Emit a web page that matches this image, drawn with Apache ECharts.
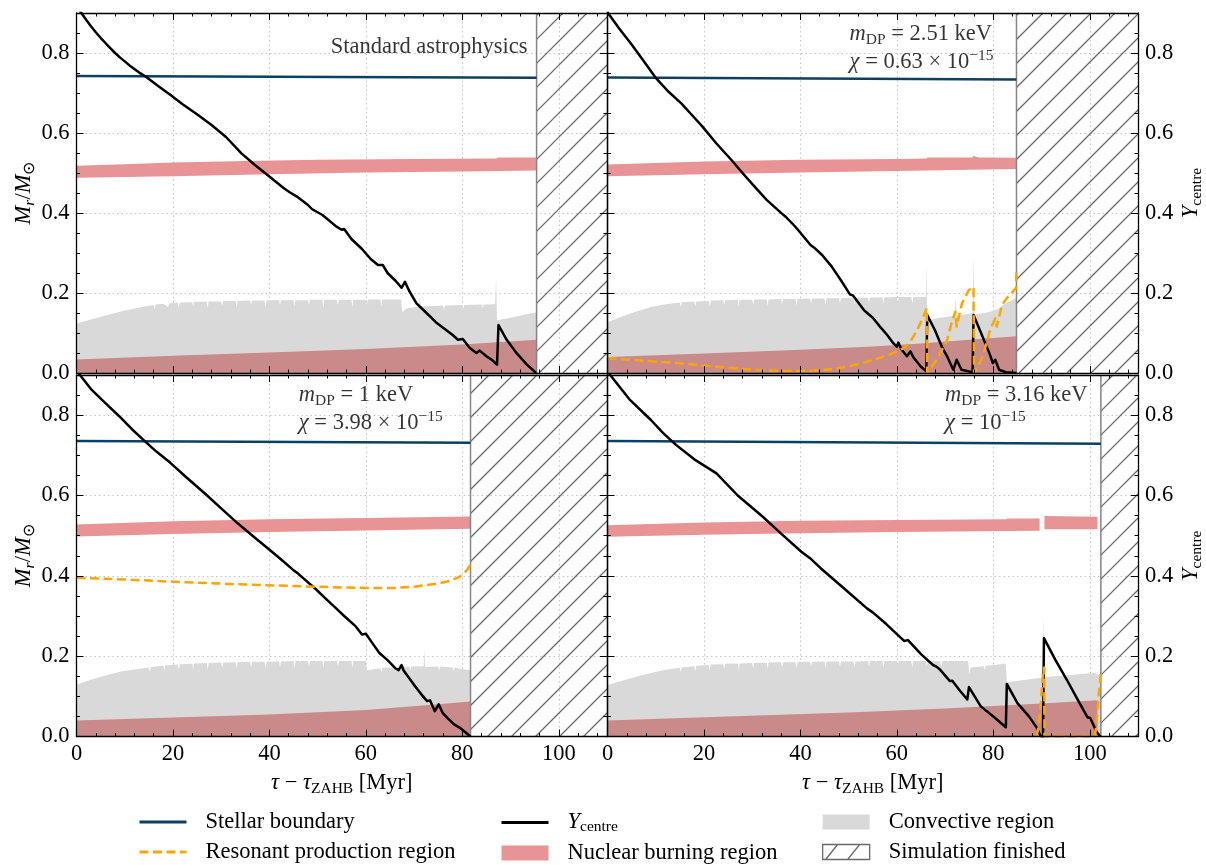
<!DOCTYPE html>
<html>
<head>
<meta charset="utf-8">
<script src="https://cdn.jsdelivr.net/npm/echarts@6/dist/echarts.min.js"></script>
<style>html,body{margin:0;padding:0;background:#fff}#chart{width:1206px;height:865px}</style>
</head>
<body>
<div id="chart"></div>
<script>
// ================= DATA =================
const xTicks = [0, 20, 40, 60, 80, 100];
const yTicks = [0, 0.2, 0.4, 0.6, 0.8];
const xMax = 110, yMax = 0.9;
const simEnd = [95.4, 84.8, 81.7, 102.3];

const panelText = [
  '{n|Standard astrophysics}',
  '{i|m}{sub|DP}{n| = 2.51 keV}\n{i|χ}{n| = 0.63 × 10}{sup|−15}',
  '{i|m}{sub|DP}{n| = 1 keV}\n{i|χ}{n| = 3.98 × 10}{sup|−15}',
  '{i|m}{sub|DP}{n| = 3.16 keV}\n{i|χ}{n| = 10}{sup|−15}'
];

// Stellar boundary
const boundaryStd = [[0, 0.7425], [95.4, 0.738]];
const boundary251 = [[0, 0.739], [84.8, 0.734]];
const boundary1 = [[0, 0.7357], [81.7, 0.7316]];
const boundary316 = [[0, 0.7355], [102.3, 0.729]];

// Y_centre
const ycStd = [[0,0.918],[1,0.9],[2,0.883],[3,0.867],[4,0.852],[5,0.838],[6,0.825],[7,0.812],[8,0.8],[9,0.789],[10,0.779],[11,0.769],[12,0.76],[13,0.751],[14.6,0.739],[17,0.717],[19.5,0.695],[22,0.672],[25.2,0.645],[28,0.62],[31,0.59],[34.2,0.549],[37,0.52],[40,0.491],[43,0.462],[44.2,0.452],[44.6,0.455],[45.7,0.441],[48,0.42],[48.8,0.41],[49.2,0.413],[51,0.395],[53.9,0.366],[55,0.358],[55.5,0.36],[57,0.335],[59.2,0.31],[61,0.285],[62.5,0.27],[63.5,0.27],[64.5,0.25],[66.2,0.23],[67.4,0.213],[67.8,0.212],[68.1,0.228],[69,0.205],[70.5,0.174],[73,0.145],[74.5,0.127],[76.7,0.107],[78,0.095],[79.1,0.083],[80.1,0.085],[81.5,0.063],[82.9,0.05],[83.6,0.056],[85,0.042],[85.4,0.046],[86.1,0.033],[87.2,0.021],[87.5,0.12],[89.2,0.083],[91.3,0.049],[93.4,0.021],[95.3,0]];
const yc251 = [[0,0.915],[0.1,0.9],[2.5,0.86],[4.85,0.824],[7.5,0.78],[10.06,0.737],[12.5,0.705],[15.3,0.674],[17.5,0.645],[19.7,0.616],[22.5,0.575],[25.7,0.5325],[28,0.5],[30.5,0.466],[33,0.433],[36.1,0.399],[37,0.39],[37.3,0.393],[39,0.365],[42.1,0.32],[42.8,0.314],[43.2,0.316],[44.5,0.295],[46.5,0.266],[48.5,0.23],[50.3,0.196],[50.9,0.194],[52,0.176],[53.2,0.157],[53.6,0.162],[55,0.138],[56.5,0.116],[58,0.095],[59.3,0.074],[60,0.066],[60.3,0.076],[61,0.058],[62.1,0.042],[62.8,0.054],[63.5,0.038],[64.9,0.017],[66.1,0.004],[66.3,0.145],[67.9,0.107],[69.3,0.066],[70.4,0.042],[71.7,0.008],[72.4,0.033],[73.4,0.008],[75.7,0.002],[75.9,0.145],[77.5,0.099],[79.2,0.049],[79.9,0.025],[80.4,0.033],[81.2,0.008],[82.6,0.002],[84.8,0]];
const yc1 = [[0,0.91],[0.6,0.902],[3,0.865],[6,0.83],[8.8,0.798],[11.5,0.765],[14.1,0.736],[16.5,0.71],[19.4,0.682],[23,0.643],[26.8,0.603],[30,0.568],[33.3,0.532],[36.5,0.5],[39.9,0.466],[42.5,0.44],[44.8,0.416],[45.2,0.418],[46,0.405],[49.7,0.366],[51.5,0.345],[53.4,0.324],[53.8,0.326],[55.5,0.3],[57.9,0.274],[59.2,0.254],[60,0.256],[60.4,0.254],[61.5,0.23],[62.8,0.208],[64.5,0.19],[66.1,0.17],[66.8,0.165],[67.4,0.178],[67.8,0.165],[69,0.145],[70.2,0.125],[71.5,0.105],[72.7,0.088],[73.3,0.09],[74.3,0.063],[75.1,0.08],[75.9,0.059],[77,0.045],[78.3,0.03],[79.5,0.0216],[80.2,0.015],[80.6,0.018],[81.7,0]];
const yc316 = [[0,0.91],[0.56,0.9],[4.5,0.84],[9,0.788],[11.5,0.756],[14.2,0.726],[18,0.69],[22.6,0.655],[27,0.6],[32.2,0.547],[36,0.505],[40.2,0.46],[42,0.444],[42.4,0.447],[44.2,0.419],[49,0.369],[53.8,0.319],[55,0.309],[55.4,0.311],[57.8,0.28],[60,0.255],[61.5,0.238],[62.3,0.24],[65,0.205],[67.5,0.178],[68.2,0.174],[69,0.166],[71,0.138],[71.5,0.139],[73,0.115],[74.6,0.092],[74.95,0.123],[77.4,0.075],[80.2,0.048],[80.6,0.05],[82.6,0.023],[82.8,0.131],[85,0.083],[87.4,0.05],[89,0.022],[89.8,0.001],[90.3,0],[90.5,0.245],[92.9,0.19],[95.3,0.14],[97.8,0.085],[99.5,0.048],[100.1,0.046],[100.4,0.05],[101.4,0.012],[102.2,0]];

// Resonant production region
const res251 = [[0,0.037],[7,0.031],[14.5,0.025],[22,0.016],[30.5,0.0075],[37,0.005],[42.5,0.006],[47,0.01],[50.5,0.018],[53.5,0.027],[56.5,0.038],[58.5,0.046],[60,0.054],[61.5,0.063],[62.8,0.078],[64.2,0.107],[65.5,0.141],[66.2,0.162],[66.3,0],[67.5,0.02],[68.6,0.041],[70.4,0.082],[71.4,0.128],[72.1,0.153],[72.4,0.116],[73.5,0.174],[74.9,0.207],[75.9,0.215],[76,0],[77,0.02],[78,0.049],[79.3,0.107],[80.4,0.136],[80.7,0.116],[81.8,0.17],[82.8,0.187],[84.7,0.212],[84.8,0.253]];
const res1 = [[0,0.395],[10,0.391],[17,0.387],[25,0.383],[33.3,0.379],[41,0.376],[49.7,0.373],[55,0.371],[60,0.37],[66.1,0.37],[70,0.373],[72.7,0.377],[75,0.381],[77.6,0.388],[79.5,0.398],[80.5,0.408],[81.2,0.418],[81.7,0.43]];
const res316 = [[89,0],[89.5,0.035],[89.9,0.09],[90.3,0.16],[90.55,0.172],[90.6,0],[101.1,0],[101.6,0.06],[101.9,0.11],[102.3,0.16]];

// Convective region (upper edge, filled down to 0)
const convStd = [[0,0.124],[3,0.134],[6,0.144],[9,0.153],[12,0.161],[14,0.166],[16,0.17],[16.2,0.158],[16.4,0.171],[18,0.173],[19,0.165],[19.2,0.174],[21,0.176],[21.2,0.163],[21.4,0.176],[24,0.177],[24.2,0.166],[24.4,0.178],[27,0.178],[27.2,0.162],[27.4,0.179],[30,0.179],[30.2,0.168],[30.4,0.18],[33,0.18],[33.2,0.165],[33.4,0.18],[36,0.181],[36.2,0.17],[36.4,0.181],[39,0.181],[39.2,0.164],[39.4,0.182],[42,0.182],[42.2,0.17],[42.4,0.182],[45,0.182],[45.2,0.166],[45.4,0.182],[48,0.182],[48.2,0.17],[48.4,0.183],[51,0.183],[51.2,0.163],[51.4,0.183],[54,0.183],[54.2,0.17],[54.4,0.183],[57,0.183],[57.2,0.165],[57.4,0.183],[60,0.183],[60.2,0.17],[60.4,0.184],[63,0.184],[63.2,0.166],[63.4,0.184],[67.3,0.184],[67.5,0.152],[68.5,0.162],[71,0.166],[71.2,0.19],[71.4,0.166],[75,0.168],[76,0.169],[76.2,0.158],[76.4,0.169],[80,0.17],[80.2,0.16],[80.4,0.17],[84,0.171],[84.2,0.162],[84.4,0.171],[86.8,0.172],[87,0.24],[87.2,0.132],[90,0.138],[93,0.146],[95.4,0.152]];
const conv251 = [[0,0.127],[3,0.141],[6,0.154],[9,0.165],[12,0.172],[15,0.176],[15.2,0.164],[15.4,0.177],[18,0.179],[18.2,0.167],[18.4,0.179],[21,0.18],[21.2,0.166],[21.4,0.181],[24,0.182],[24.2,0.17],[24.4,0.182],[27,0.183],[27.2,0.167],[27.4,0.183],[30,0.183],[30.2,0.171],[30.4,0.184],[33,0.184],[33.2,0.168],[33.4,0.184],[36,0.185],[36.2,0.172],[36.4,0.185],[39,0.185],[39.2,0.169],[39.4,0.185],[42,0.186],[42.2,0.173],[42.4,0.186],[45,0.186],[45.2,0.17],[45.4,0.187],[48,0.187],[48.2,0.174],[48.4,0.187],[51,0.188],[51.2,0.171],[51.4,0.188],[54,0.188],[54.2,0.175],[54.4,0.189],[57,0.189],[57.2,0.172],[57.4,0.189],[60,0.19],[60.2,0.176],[60.4,0.19],[63,0.19],[63.2,0.174],[63.4,0.19],[66,0.19],[66.1,0.27],[66.3,0.132],[69,0.138],[72,0.143],[72.2,0.19],[72.4,0.144],[75.7,0.149],[75.9,0.29],[76.1,0.146],[79,0.152],[81,0.16],[82,0.17],[84.8,0.188]];
const conv1 = [[0,0.129],[3,0.141],[6,0.152],[9,0.161],[12,0.167],[15,0.172],[15.2,0.16],[15.4,0.173],[18,0.176],[18.2,0.163],[18.4,0.177],[21,0.179],[21.2,0.166],[21.4,0.18],[24,0.181],[24.2,0.168],[24.4,0.182],[27,0.183],[27.2,0.167],[27.4,0.183],[30,0.184],[30.2,0.171],[30.4,0.184],[33,0.185],[33.2,0.168],[33.4,0.185],[36,0.186],[36.2,0.172],[36.4,0.186],[39,0.186],[39.2,0.169],[39.4,0.187],[42,0.187],[42.2,0.173],[42.4,0.187],[45,0.188],[45.2,0.17],[45.4,0.188],[48,0.188],[48.2,0.174],[48.4,0.188],[51,0.188],[51.2,0.171],[51.4,0.188],[54,0.188],[54.2,0.175],[54.4,0.188],[57,0.188],[57.2,0.172],[57.4,0.188],[60,0.188],[60.2,0.165],[63,0.17],[63.2,0.16],[63.4,0.171],[66,0.172],[66.2,0.162],[66.4,0.173],[69,0.174],[69.2,0.165],[69.4,0.174],[72,0.175],[72.1,0.215],[72.3,0.173],[75,0.174],[75.2,0.164],[75.4,0.174],[78,0.172],[78.2,0.163],[78.4,0.171],[81.7,0.165]];
const conv316 = [[0,0.128],[3,0.139],[6,0.149],[9,0.158],[12,0.166],[15,0.171],[15.2,0.16],[15.4,0.172],[18,0.175],[18.2,0.163],[18.4,0.176],[21,0.178],[21.2,0.165],[21.4,0.179],[24,0.18],[24.2,0.168],[24.4,0.181],[27,0.182],[27.2,0.167],[27.4,0.182],[30,0.183],[30.2,0.17],[30.4,0.183],[33,0.184],[33.2,0.168],[33.4,0.184],[36,0.185],[36.2,0.172],[36.4,0.185],[39,0.185],[39.2,0.169],[39.4,0.186],[42,0.186],[42.2,0.173],[42.4,0.186],[45,0.187],[45.2,0.17],[45.4,0.187],[48,0.187],[48.2,0.174],[48.4,0.187],[51,0.187],[51.2,0.171],[51.4,0.187],[54,0.188],[54.2,0.175],[54.4,0.188],[57,0.188],[57.2,0.172],[57.4,0.188],[60,0.188],[60.2,0.176],[60.4,0.188],[63,0.188],[63.2,0.172],[63.4,0.188],[66,0.188],[66.2,0.175],[66.4,0.188],[69,0.188],[69.2,0.172],[69.4,0.188],[74.8,0.188],[75,0.155],[75.3,0.172],[78,0.175],[78.2,0.165],[78.4,0.176],[80.3,0.178],[82.6,0.182],[82.8,0.135],[86,0.14],[89,0.145],[90.3,0.146],[90.4,0.3],[90.6,0.148],[93,0.15],[96,0.153],[99,0.156],[101,0.158],[102.3,0.15]];

// Nuclear burning region: core part (0 -> top) and shell band (lower -> upper)
const coreStd = [[0,0.034],[20,0.043],[40,0.051],[60,0.06],[80,0.071],[95.4,0.083]];
const core251 = [[0,0.04],[20,0.049],[40,0.058],[55,0.066],[65,0.074],[75,0.083],[84.8,0.092]];
const core1 = [[0,0.04],[20,0.047],[40,0.055],[60,0.066],[75,0.08],[81.7,0.087]];
const core316 = [[0,0.04],[25,0.05],[50,0.06],[70,0.07],[90,0.082],[101.6,0.09]];

const shellUpStd = [[0,0.518],[10,0.522],[20,0.526],[35,0.53],[50,0.533],[70,0.535],[87,0.536],[87.5,0.539],[95.4,0.539]];
const shellLoStd = [[0,0.488],[20,0.492],[40,0.497],[60,0.501],[80,0.504],[95.4,0.506]];
const shellUp251 = [[0,0.521],[20,0.529],[40,0.533],[60,0.535],[66.2,0.536],[66.3,0.539],[75.7,0.539],[75.8,0.543],[77,0.539],[84.8,0.538]];
const shellLo251 = [[0,0.492],[20,0.497],[40,0.501],[60,0.505],[84.8,0.51]];
const shellUp1 = [[0,0.528],[20,0.536],[40,0.541],[60,0.544],[81.7,0.548]];
const shellLo1 = [[0,0.498],[20,0.504],[40,0.509],[60,0.513],[81.7,0.517]];
const shellUp316a = [[0,0.526],[20,0.533],[40,0.537],[60,0.539],[82.7,0.541],[82.8,0.543],[89.6,0.543]];
const shellLo316a = [[0,0.497],[20,0.502],[40,0.506],[60,0.509],[89.6,0.512]];
const shellUp316b = [[90.6,0.549],[101.6,0.547]];
const shellLo316b = [[90.6,0.516],[101.6,0.516]];

// ================= STYLE / LAYOUT =================
const FONT = 'Liberation Serif';
const FS = 22.5, FSS = 15.5;
const C_BOUND = '#0b4063', C_YC = '#000000', C_RES = '#ffa500';
const C_CONV = '#d9d9d9', C_SHELL = '#e89494', C_CORE = '#c98a8a', C_HATCH = '#6a6a6a';

function richSet(lh, subTop, subBot, supTop, supBot) {
  const base = {fontFamily: FONT, color: '#000'};
  return {
    n: Object.assign({fontSize: FS, lineHeight: lh}, base),
    i: Object.assign({fontSize: FS, lineHeight: lh, fontStyle: 'italic'}, base),
    sub: Object.assign({fontSize: FSS, lineHeight: 15, padding: [subTop, 0, subBot, 0]}, base),
    isub: Object.assign({fontSize: FSS, lineHeight: 15, fontStyle: 'italic', padding: [subTop, 0, subBot, 0]}, base),
    sup: Object.assign({fontSize: FSS, lineHeight: 15, padding: [supTop, 0, supBot, 0]}, base)
  };
}
const R26 = richSet(26, 11, 0, 0, 11);
const R28 = richSet(28, 12, 1, 0.5, 12.5);
const R24 = richSet(24, 9, 0, 0, 9);

const grids = [
  {left: 76.5, top: 13, width: 530.5, height: 360},
  {left: 607.5, top: 13, width: 530.5, height: 360},
  {left: 76.5, top: 375, width: 530.5, height: 361.5},
  {left: 607.5, top: 375, width: 530.5, height: 361.5}
].map(g => Object.assign({containLabel: false, outerBoundsMode: 'none'}, g));

const labelStyle = {fontFamily: FONT, fontSize: FS, color: '#000'};
const lineAx = {show: true, onZero: false, lineStyle: {color: '#000', width: 1.3}};
const noLine = {show: false, onZero: false};
const majTick = {show: true, inside: true, length: 7, lineStyle: {color: '#000', width: 1}};
const minTick = {show: true, inside: true, length: 3.5, lineStyle: {color: '#000', width: 1}};
const gridLine = {show: true, lineStyle: {color: '#c4c4c4', width: 1, type: [1.5, 3]}};

const xName = '{i|τ}{n| − }{i|τ}{sub|ZAHB}{n| [Myr]}';
const yNameL = '{i|M}{isub|r}{n|/}{i|M}{sub|⊙}';
const yNameR = '{i|Y}{sub|centre}';

const xAxes = [], yAxes = [];
grids.forEach((g, i) => {
  const row = Math.floor(i / 2), col = i % 2;
  const cx = {gridIndex: i, type: 'value', min: 0, max: xMax, silent: true,
    axisLine: noLine, axisTick: {show: false}, axisLabel: {show: false}, splitLine: {show: false}, minorTick: {show: false}};
  const cy = Object.assign({}, cx, {max: yMax});
  xAxes.push(Object.assign({}, cx, {position: 'bottom', interval: 20, splitLine: gridLine, z: 0}));
  xAxes.push(Object.assign({}, cx, {position: 'bottom', interval: 20, z: 10, axisLine: lineAx, axisTick: majTick,
    axisLabel: {show: row === 1, margin: 6, showMaxLabel: false, ...labelStyle, formatter: v => (v > 105 ? '' : String(v))},
    name: row === 1 ? xName : '', nameLocation: 'middle', nameGap: 34, nameMoveOverlap: false,
    nameTextStyle: {...labelStyle, rich: R26}}));
  xAxes.push(Object.assign({}, cx, {position: 'bottom', interval: 4, z: 10, axisTick: minTick}));
  xAxes.push(Object.assign({}, cx, {position: 'top', interval: 20, z: 10, axisLine: lineAx, axisTick: majTick}));
  xAxes.push(Object.assign({}, cx, {position: 'top', interval: 4, z: 10, axisTick: minTick}));
  const yLab = {margin: 7, showMaxLabel: false, ...labelStyle, formatter: v => (v > 0.85 ? '' : v.toFixed(1))};
  yAxes.push(Object.assign({}, cy, {position: 'left', interval: 0.2, splitLine: gridLine, z: 0}));
  yAxes.push(Object.assign({}, cy, {position: 'left', interval: 0.2, z: 10, axisLine: lineAx, axisTick: majTick,
    axisLabel: Object.assign({show: col === 0}, yLab),
    name: col === 0 ? yNameL : '', nameLocation: 'middle', nameGap: 39, nameMoveOverlap: false,
    nameTextStyle: {...labelStyle, rich: R26}}));
  yAxes.push(Object.assign({}, cy, {position: 'left', interval: 0.05, z: 10, axisTick: minTick}));
  yAxes.push(Object.assign({}, cy, {position: 'right', interval: 0.2, z: 10, axisLine: lineAx, axisTick: majTick,
    axisLabel: Object.assign({show: col === 1}, yLab),
    name: col === 1 ? yNameR : '', nameLocation: 'middle', nameGap: 40, nameMoveOverlap: false,
    nameTextStyle: {...labelStyle, rich: R26}}));
  yAxes.push(Object.assign({}, cy, {position: 'right', interval: 0.05, z: 10, axisTick: minTick}));
});

function polySeries(name, i, top, bottom, color, z) {
  return {
    type: 'custom', name: name, xAxisIndex: 5 * i, yAxisIndex: 5 * i, z: z, silent: true,
    data: [[top[0][0], top[0][1]]],
    renderItem: function (params, api) {
      const up = top.map(p => api.coord(p));
      const lo = bottom ? bottom.map(p => api.coord(p)).reverse()
        : [api.coord([top[top.length - 1][0], 0]), api.coord([top[0][0], 0])];
      return {type: 'polygon', shape: {points: up.concat(lo)}, style: {fill: color, stroke: null}};
    }
  };
}
function lineSeries(name, i, data, color, width, type, z) {
  return {type: 'line', name: name, xAxisIndex: 5 * i, yAxisIndex: 5 * i, data: data, z: z,
    symbol: 'none', showSymbol: false, silent: true, clip: true, animation: false,
    lineStyle: {color: color, width: width, type: type, join: 'round'}, itemStyle: {color: color}};
}
function hatchSeries(i, end) {
  return {
    type: 'custom', name: 'Simulation finished', xAxisIndex: 5 * i, yAxisIndex: 5 * i, z: 3, silent: true,
    data: [[end, 0]],
    renderItem: function (params, api) {
      const a = api.coord([end, yMax]), b = api.coord([xMax, 0]);
      const L = a[0], T = a[1], R = b[0], B = b[1];
      const step = 24, kids = [];
      for (let c = Math.ceil((L + T) / step) * step; c < R + B; c += step) {
        const x1 = Math.max(L, c - B), x2 = Math.min(R, c - T);
        if (x2 - x1 > 0.5) kids.push({type: 'line', shape: {x1: x1, y1: c - x1, x2: x2, y2: c - x2},
          style: {stroke: C_HATCH, lineWidth: 1.3}});
      }
      kids.push({type: 'line', shape: {x1: L, y1: T, x2: L, y2: B}, style: {stroke: '#858585', lineWidth: 1.5}});
      return {type: 'group', children: kids};
    }
  };
}
function textSeries(i, pos, text) {
  return {type: 'scatter', xAxisIndex: 5 * i, yAxisIndex: 5 * i, z: 6, silent: true, symbolSize: 1,
    itemStyle: {color: 'rgba(0,0,0,0)'}, data: [pos],
    label: {show: true, position: 'right', distance: 0, formatter: text, rich: R28,
      fontFamily: FONT, fontSize: FS, color: '#000'}};
}

const panels = [
  {conv: convStd, core: coreStd, shells: [[shellUpStd, shellLoStd]], bound: boundaryStd, yc: ycStd, res: null, textPos: [52.6, 0.816]},
  {conv: conv251, core: core251, shells: [[shellUp251, shellLo251]], bound: boundary251, yc: yc251, res: res251, textPos: [50.1, 0.8125]},
  {conv: conv1, core: core1, shells: [[shellUp1, shellLo1]], bound: boundary1, yc: yc1, res: res1, textPos: [46.0, 0.815]},
  {conv: conv316, core: core316, shells: [[shellUp316a, shellLo316a], [shellUp316b, shellLo316b]], bound: boundary316, yc: yc316, res: res316, textPos: [69.9, 0.815]}
];

const series = [];
panels.forEach((p, i) => {
  series.push(polySeries('Convective region', i, p.conv, null, C_CONV, 1));
  series.push(polySeries('Nuclear burning region', i, p.core, null, C_CORE, 1));
  p.shells.forEach(s => series.push(polySeries('Nuclear burning region', i, s[0], s[1], C_SHELL, 1)));
  series.push(lineSeries('Stellar boundary', i, p.bound, C_BOUND, 2.5, 'solid', 3));
  series.push(lineSeries('Y_centre', i, p.yc, C_YC, 2.5, 'solid', 4));
  if (p.res) series.push(lineSeries('Resonant production region', i, p.res, C_RES, 2.5, [9, 4.5], 5));
  series.push(hatchSeries(i, simEnd[i]));
  series.push(textSeries(i, p.textPos, panelText[i]));
});

const legendBase = {orient: 'vertical', top: 810, padding: 0, itemWidth: 47, itemHeight: 15, itemGap: 6, selectedMode: false,
  textStyle: {fontFamily: FONT, fontSize: FS, color: '#000', lineHeight: 24, padding: [0, 0, 0, 14], rich: R24},
  formatter: n => (n === 'Y_centre' ? '{i|Y}{sub|centre}' : n)};
const hideSym = {opacity: 0};

const option = {
  animation: false,
  backgroundColor: '#ffffff',
  grid: grids,
  xAxis: xAxes,
  yAxis: yAxes,
  legend: [
    Object.assign({}, legendBase, {left: 138, data: [
      {name: 'Stellar boundary', itemStyle: hideSym, lineStyle: {width: 3}},
      {name: 'Resonant production region', itemStyle: hideSym, lineStyle: {width: 3}}]}),
    Object.assign({}, legendBase, {left: 500, data: [
      {name: 'Y_centre', itemStyle: hideSym, lineStyle: {width: 3}},
      {name: 'Nuclear burning region', icon: 'rect', itemStyle: {color: C_SHELL}}]}),
    Object.assign({}, legendBase, {left: 822, data: [
      {name: 'Convective region', icon: 'rect', itemStyle: {color: C_CONV}},
      {name: 'Simulation finished', icon: 'path://M0,0L47,0L47,15L0,15Z M3,15L15,0 M25,15L37,0',
        itemStyle: {color: 'rgba(0,0,0,0)', borderColor: C_HATCH, borderWidth: 1.3}}]})
  ],
  series: series
};

const chart = echarts.init(document.getElementById('chart'), null, {renderer: 'canvas'});
chart.setOption(option);
</script>
</body>
</html>
